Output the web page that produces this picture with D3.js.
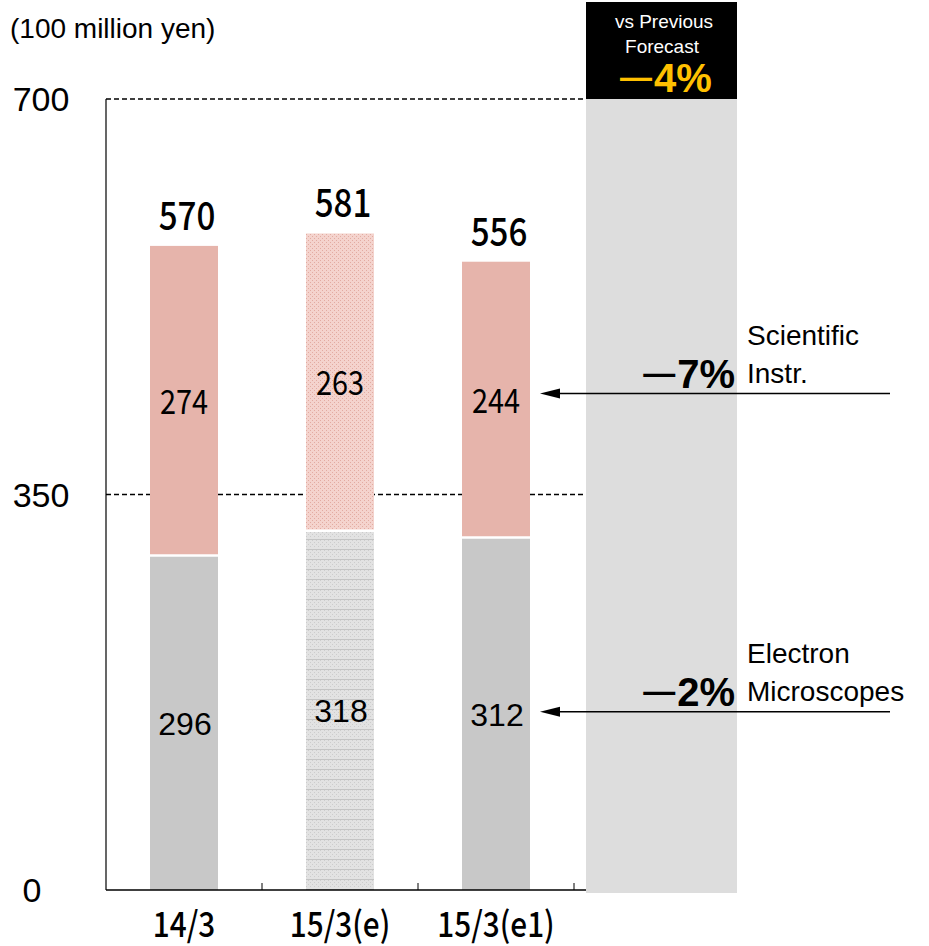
<!DOCTYPE html>
<html lang="en">
<head>
  <meta charset="UTF-8">
  <title>Sales</title>
  <style>
    body { margin: 0; background: #fff; }
  </style>
</head>
<body>
  <svg id="svg" width="929" height="946"></svg>
  <script src="https://cdn.jsdelivr.net/npm/d3@7"></script>
  <script>
    const categories = ['14/3', '15/3(e)', '15/3(e1)']
    const electron = [296, 318, 312]
    const scientific = [274, 263, 244]
    const totals = [570, 581, 556]
    const hatched = [false, true, false]
    const yTicks = [0, 350, 700]
    const changeLabels = { scientific: '7%', electron: '2%', total: '4%' }

    const margin = { top: 99, left: 106, bottom: 56 }
    const plotRight = 574
    const height = 946 - margin.bottom

    const svg = d3.select('#svg')
    const numFont = '"Noto Sans CJK JP", sans-serif'
    const txtFont = '"Liberation Sans", Arial, sans-serif'

    const defs = svg.append('defs')
    // dotted pink fill for the estimate bar
    const pinkPat = defs.append('pattern').attr('id', 'pinkHatch')
      .attr('width', 4).attr('height', 4).attr('patternUnits', 'userSpaceOnUse')
    pinkPat.append('rect').attr('width', 4).attr('height', 4).attr('fill', '#f4d3cd')
    pinkPat.append('rect').attr('x', 0).attr('y', 0).attr('width', 1).attr('height', 1).attr('fill', '#e2aba1')
    pinkPat.append('rect').attr('x', 2).attr('y', 2).attr('width', 1).attr('height', 1).attr('fill', '#e2aba1')
    const grayPat = defs.append('pattern').attr('id', 'grayHatch')
      .attr('width', 4).attr('height', 10).attr('patternUnits', 'userSpaceOnUse')
    grayPat.append('rect').attr('width', 4).attr('height', 10).attr('fill', '#e2e2e2')
    grayPat.append('rect').attr('x', 0).attr('y', 0).attr('width', 1).attr('height', 1).attr('fill', '#cccccc')
    grayPat.append('rect').attr('x', 2).attr('y', 2).attr('width', 1).attr('height', 1).attr('fill', '#cccccc')
    grayPat.append('rect').attr('x', 0).attr('y', 4).attr('width', 1).attr('height', 1).attr('fill', '#cccccc')
    grayPat.append('rect').attr('x', 2).attr('y', 6).attr('width', 1).attr('height', 1).attr('fill', '#cccccc')
    grayPat.append('rect').attr('x', 0).attr('y', 9).attr('width', 4).attr('height', 1).attr('fill', '#c4c4c4')

    const xscale = d3.scaleBand()
      .domain(categories)
      .range([margin.left, plotRight])
      .paddingInner(0)
      .paddingOuter(0)

    const yscale = d3.scaleLinear()
      .domain([0, 700])
      .range([height, margin.top])

    const barW = 68

    // comparison panel
    svg.append('rect')
      .attr('x', 586).attr('y', margin.top).attr('width', 151).attr('height', height + 3 - margin.top)
      .attr('fill', '#dddddd')
    svg.append('rect')
      .attr('x', 586).attr('y', 2).attr('width', 151).attr('height', margin.top - 2)
      .attr('fill', '#000')

    // dashed gridlines
    svg.selectAll('.grid')
      .data([350, 700])
      .enter()
      .append('line')
      .attr('x1', margin.left).attr('x2', 586)
      .attr('y1', d => yscale(d)).attr('y2', d => yscale(d))
      .attr('stroke', '#000').attr('stroke-width', 1.6).attr('stroke-dasharray', '5,3')

    // bars
    const barGroup = svg.append('g')
    categories.forEach((c, i) => {
      const x = xscale(c) + xscale.bandwidth() / 2 - barW / 2
      barGroup.append('rect')
        .attr('x', x).attr('y', yscale(electron[i]))
        .attr('width', barW).attr('height', height - yscale(electron[i]))
        .attr('fill', hatched[i] ? 'url(#grayHatch)' : '#c8c8c8')
      barGroup.append('rect')
        .attr('x', x).attr('y', yscale(electron[i] + scientific[i]))
        .attr('width', barW).attr('height', yscale(electron[i]) - yscale(electron[i] + scientific[i]))
        .attr('fill', hatched[i] ? 'url(#pinkHatch)' : '#e6b4ab')
      barGroup.append('line')
        .attr('x1', x).attr('x2', x + barW)
        .attr('y1', yscale(electron[i])).attr('y2', yscale(electron[i]))
        .attr('stroke', '#fff').attr('stroke-width', 2.5)
    })

    function narrowText(x, y, str, size, weight, sx) {
      svg.append('text')
        .attr('transform', `translate(${x},${y}) scale(${sx || 0.85},1)`)
        .attr('text-anchor', 'middle')
        .attr('font-family', numFont)
        .attr('font-size', size)
        .attr('font-weight', weight)
        .text(str)
    }

    function plainText(x, y, str, size, anchor) {
      svg.append('text')
        .attr('x', x).attr('y', y)
        .attr('text-anchor', anchor || 'middle')
        .attr('font-family', txtFont)
        .attr('font-size', size)
        .text(str)
    }

    // value labels
    categories.forEach((c, i) => {
      const cx = xscale(c) + xscale.bandwidth() / 2
      const yE = (yscale(0) + yscale(electron[i])) / 2
      const yS = (yscale(electron[i]) + yscale(electron[i] + scientific[i])) / 2
      plainText(cx + 1, yE + 12, electron[i], 32)
      narrowText(cx, yS + 13, scientific[i], 34, 400)
      narrowText(cx + 3, yscale(totals[i]) - 16, totals[i], 39, 500)
    })

    // axes
    const xAxis = svg.append('g')
      .attr('transform', `translate(0, ${height})`)
    xAxis.append('line').attr('x1', margin.left).attr('x2', 586).attr('y1', 0).attr('y2', 0)
      .attr('stroke', '#000').attr('stroke-width', 1.5)
    xAxis.selectAll('.tk')
      .data(categories)
      .enter()
      .append('line')
      .attr('x1', d => xscale(d) + xscale.bandwidth()).attr('x2', d => xscale(d) + xscale.bandwidth())
      .attr('y1', 0).attr('y2', -7)
      .attr('stroke', '#000')

    svg.append('line')
      .attr('x1', margin.left).attr('x2', margin.left)
      .attr('y1', margin.top).attr('y2', height)
      .attr('stroke', '#000').attr('stroke-width', 1.2)

    categories.forEach(c => {
      narrowText(xscale(c) + xscale.bandwidth() / 2, 937, c, 35, 500)
    })
    yTicks.forEach(t => {
      plainText(t === 0 ? 32 : 41, yscale(t) + 12, t, 34)
    })

    plainText(10, 38, '(100 million yen)', 28, 'start')

    // long dash before the percentage, raised to digit mid-height
    function changeText(sel, pct) {
      sel.append('tspan').attr('font-size', '0.8em').attr('dy', -4).text('\u2014')
      sel.append('tspan').attr('dy', 4).attr('dx', 2).text(pct)
    }

    // previous forecast box
    const box = svg.append('g').attr('font-family', txtFont).attr('text-anchor', 'middle')
    box.append('text').attr('x', 664).attr('y', 28).attr('font-size', 19).attr('fill', '#fff').text('vs Previous')
    box.append('text').attr('x', 662).attr('y', 53).attr('font-size', 19).attr('fill', '#fff').text('Forecast')
    box.append('text').attr('x', 666).attr('y', 92).attr('font-size', 40).attr('font-weight', 'bold')
      .attr('fill', '#ffc000').call(changeText, changeLabels.total)

    // change arrows
    const last = categories.length - 1
    const arrows = [
      { y: (yscale(electron[last]) + yscale(electron[last] + scientific[last])) / 2 - 6, pct: changeLabels.scientific, l1: 'Scientific', l2: 'Instr.' },
      { y: (yscale(0) + yscale(electron[last])) / 2 - 2, pct: changeLabels.electron, l1: 'Electron', l2: 'Microscopes' }
    ]
    arrows.forEach(a => {
      svg.append('line')
        .attr('x1', 890).attr('x2', 550)
        .attr('y1', a.y).attr('y2', a.y)
        .attr('stroke', '#000').attr('stroke-width', 1.5)
      svg.append('path')
        .attr('d', `M540,${a.y} L560,${a.y - 5} L560,${a.y + 5} Z`)
        .attr('fill', '#000')
      svg.append('text')
        .attr('x', 735).attr('y', a.y - 6)
        .attr('text-anchor', 'end')
        .attr('font-family', txtFont).attr('font-size', 40).attr('font-weight', 'bold')
        .call(changeText, a.pct)
      plainText(747, a.y - 49, a.l1, 28, 'start')
      plainText(747, a.y - 11, a.l2, 28, 'start')
    })
  </script>
</body>
</html>
